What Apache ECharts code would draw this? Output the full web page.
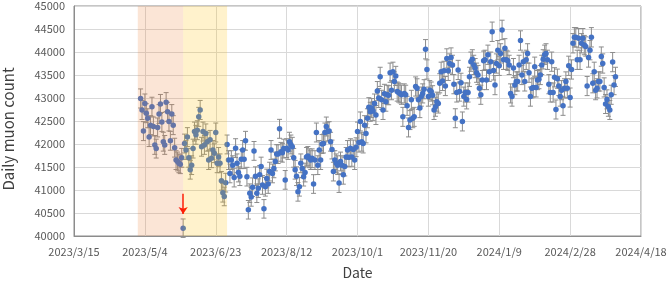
<!DOCTYPE html>
<html>
<head>
<meta charset="utf-8">
<script src="https://cdn.jsdelivr.net/npm/echarts@6/dist/echarts.min.js"></script>
<style>
  html, body { margin: 0; padding: 0; background: #fff; }
  #chart { width: 669px; height: 282px; }
</style>
</head>
<body>
<div id="chart"></div>
<script>
// daily muon counts, one value per day from the 1st of each month
var may2023 = [42990, 42740, 42280, 42880, 42670, 42560, 42150, 42410, 42810, 42380, 41980, 41900, 42360, 42650, 42870, 42480, 42050, 41980, 42910, 42700, 42490, 42070, 42650, 42410, 41920, 41650, 41620, 41580, 41560, 41700, 40170];
var jun2023 = [42010, 41870, 42150, 41700, 41440, 41540, 41900, 42270, 42200, 42300, 42590, 42740, 41940, 42270, 41980, 42230, 42050, 41650, 42090, 41690, 41870, 41800, 42250, 41580, 41720, 41580, 41200, 40940, 40860, 41160];
var jul2023 = [41990, 41650, 41360, 41650, 41540, 41270, 41910, 41580, 41380, 41300, 41670, 41870, 41670, 42070, 41290, 40570, 40930, 40850, 41060, 41850, 41300, 40930, 41040, 41330, 41510, 41110, 40590, 41070, 41250, 41130, 41400];
var aug2023 = [41870, 41360, 41470, 41620, 41780, 41780, 42330, 41830, 41810, 41900, 41220, 41910, 41870, 42050, 41990, 41940, 41700, 41440, 41300, 40960, 41070, 41580, 41470, 41290, 41380, 41720, 41740, 41690, 41650, 41690, 41130];
var sep2023 = [41650, 42250, 41540, 41870, 41650, 42000, 42010, 42250, 42380, 42270, 42280, 42050, 41880, 41400, 41650, 41580, 41540, 41150, 41620, 41540, 41330, 41510, 41720, 41870, 41710, 41910, 41720, 41880, 41650, 41930];
var oct2023 = [42270, 42030, 42490, 42050, 42010, 42410, 42230, 42560, 42800, 42700, 42780, 42720, 42880, 42630, 43150, 43000, 43460, 42960, 42740, 43090, 42920, 43070, 43060, 43550, 43170, 43570, 43360, 43480, 43140, 43120, 43100];
var nov2023 = [43070, 42590, 43100, 43070, 42830, 42360, 42520, 42960, 42560, 42590, 43250, 43210, 42960, 42780, 43030, 43100, 43190, 44060, 43620, 43030, 43170, 43140, 43060, 42740, 42810, 42920, 42880, 43320, 43570, 43370];
var dec2023 = [43590, 43260, 43860, 43590, 43750, 43880, 43720, 43300, 42560, 43120, 43610, 43140, 43330, 42490, 43030, 43120, 42970, 43120, 43460, 43790, 43840, 43720, 43650, 43550, 43500, 43210, 43070, 43390, 43810, 43830, 43390];
var jan2024 = [43940, 43570, 43790, 44440, 43600, 43280, 43750, 44040, 43700, 43970, 44480, 43830, 44080, 43830, 43810, 43720, 43100, 43030, 43650, 43280, 43360, 43360, 43720, 44250, 43500, 43790, 43360, 43830, 43970, 43550, 43030];
var feb2024 = [43210, 43230, 43680, 43230, 43390, 43410, 43500, 43720, 43840, 43940, 43970, 43830, 43300, 43120, 43790, 43120, 43450, 42750, 43420, 43260, 43030, 43170, 42830, 43210, 43360, 43210, 43700, 43010, 43620];
var mar2024 = [44190, 44320, 44320, 43830, 44300, 43830, 44190, 44300, 44150, 44120, 43260, 43880, 44040, 44320, 43320, 43570, 43170, 43210, 43360, 43360, 43900, 43750, 43230, 42870, 42970, 42810, 42740, 43070, 43780, 43280, 43460];

var monthStarts = [[2023, 5], [2023, 6], [2023, 7], [2023, 8], [2023, 9], [2023, 10], [2023, 11], [2023, 12], [2024, 1], [2024, 2], [2024, 3]];
var monthValues = [may2023, jun2023, jul2023, aug2023, sep2023, oct2023, nov2023, dec2023, jan2024, feb2024, mar2024];

// shaded periods [start, end]
var pinkPeriod = ['2023-04-29', '2023-05-31'];
var yellowPeriod = ['2023-05-31', '2023-07-01'];
var arrowDate = '2023-05-31';

var xStart = '2023-03-15', xEnd = '2024-04-18', xStepDays = 50;
var yMin = 40000, yMax = 45000, yStep = 500;

var DAY = 86400000;
function ts(s) { var p = s.split('-'); return Date.UTC(+p[0], +p[1] - 1, +p[2]); }

var points = [];
monthStarts.forEach(function (m, i) {
  monthValues[i].forEach(function (v, d) {
    // counting error is sqrt(N)
    points.push([Date.UTC(m[0], m[1] - 1, d + 1), v, Math.sqrt(v)]);
  });
});

var font = 'Noto Sans CJK JP';
var chart = echarts.init(document.getElementById('chart'));

chart.setOption({
  animation: false,
  grid: {
    left: 74, right: 28, top: 6, bottom: 46,
    containLabel: false, outerBoundsMode: 'none',
    show: true, borderColor: '#8c8c8c', borderWidth: 1
  },
  xAxis: {
    type: 'value',
    min: ts(xStart), max: ts(xEnd), interval: xStepDays * DAY,
    name: 'Date', nameLocation: 'middle', nameGap: 30,
    nameTextStyle: { fontFamily: font, fontSize: 14, color: '#404040' },
    axisLine: { show: true, lineStyle: { color: '#8c8c8c' } },
    axisTick: { show: false },
    axisLabel: {
      fontFamily: font, fontSize: 11, color: '#595959', margin: 10,
      formatter: function (v) {
        var d = new Date(v);
        return d.getUTCFullYear() + '/' + (d.getUTCMonth() + 1) + '/' + d.getUTCDate();
      }
    },
    splitLine: { show: true, lineStyle: { color: '#d9d9d9' } }
  },
  yAxis: {
    type: 'value', min: yMin, max: yMax, interval: yStep,
    name: 'Daily muon count', nameLocation: 'middle', nameGap: 58,
    nameTextStyle: { fontFamily: font, fontSize: 15, color: '#404040', padding: [0, 16, 0, 0] },
    axisLine: { show: true, lineStyle: { color: '#8c8c8c' } },
    axisTick: { show: false },
    axisLabel: {
      fontFamily: font, fontSize: 11, color: '#595959', margin: 9,
      formatter: function (v) { return String(v); }
    },
    splitLine: { show: true, lineStyle: { color: '#d9d9d9' } }
  },
  series: [
    {
      // error bars
      type: 'custom',
      z: 2,
      silent: true,
      data: points,
      encode: { x: 0, y: 1 },
      renderItem: function (params, api) {
        var x = api.value(0), v = api.value(1), e = api.value(2);
        var t = api.coord([x, v + e]);
        var b = api.coord([x, v - e]);
        var hw = 2.5;
        var st = { stroke: '#8c8c8c', lineWidth: 1 };
        return {
          type: 'group',
          children: [
            { type: 'line', shape: { x1: t[0], y1: t[1], x2: b[0], y2: b[1] }, style: st },
            { type: 'line', shape: { x1: t[0] - hw, y1: t[1], x2: t[0] + hw, y2: t[1] }, style: st },
            { type: 'line', shape: { x1: b[0] - hw, y1: b[1], x2: b[0] + hw, y2: b[1] }, style: st }
          ]
        };
      }
    },
    {
      type: 'scatter',
      z: 3,
      silent: true,
      symbolSize: 5.5,
      itemStyle: { color: '#4472C4', opacity: 1 },
      data: points.map(function (p) { return [p[0], p[1]]; }),
      markLine: {
        silent: true,
        symbol: ['none', 'arrow'],
        symbolSize: [7, 7],
        label: { show: false },
        lineStyle: { color: '#ff0000', width: 1.5, type: 'solid' },
        data: [[{ coord: [ts(arrowDate), 40920] }, { coord: [ts(arrowDate), 40480] }]]
      }
    },
    {
      // translucent period bands on top of the points
      type: 'custom',
      z: 10,
      silent: true,
      data: [
        [ts(pinkPeriod[0]), ts(pinkPeriod[1]), 0],
        [ts(yellowPeriod[0]), ts(yellowPeriod[1]), 1]
      ],
      encode: { x: [0, 1] },
      renderItem: function (params, api) {
        var cs = params.coordSys;
        var x1 = api.coord([api.value(0), yMin])[0];
        var x2 = api.coord([api.value(1), yMin])[0];
        var color = api.value(2) === 0 ? 'rgba(237,125,49,0.2)' : 'rgba(255,192,0,0.2)';
        return {
          type: 'rect',
          shape: { x: x1, y: cs.y, width: x2 - x1, height: cs.height },
          style: { fill: color }
        };
      }
    }
  ]
});
</script>
</body>
</html>
